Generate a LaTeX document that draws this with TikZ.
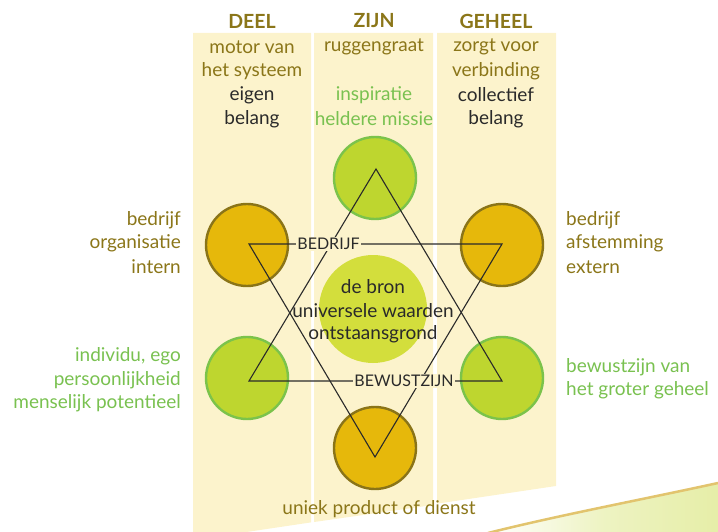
\documentclass[tikz,border=0pt]{standalone}
\usepackage{fontspec}
\setmainfont{Lato}
\definecolor{cream}{HTML}{FCF3CC}
\definecolor{olive}{HTML}{8B7619}
\definecolor{greentxt}{HTML}{79C150}
\definecolor{darktxt}{HTML}{2A2A2A}
\definecolor{orfill}{HTML}{E6B80B}
\definecolor{ordraw}{HTML}{8A7418}
\definecolor{grfill}{HTML}{BED62F}
\definecolor{grdraw}{HTML}{7BC34B}
\definecolor{cfill}{HTML}{D3DE3C}
\definecolor{swoosh}{HTML}{E6EEA8}
\definecolor{swooshedge}{HTML}{E2C46E}
\tikzset{
  txt/.style={inner sep=0pt, font=\fontsize{19}{22}\selectfont},
  head/.style={inner sep=0pt, font=\fontsize{19.5}{22}\selectfont\bfseries, text=olive},
  oltxt/.style={txt, text=olive},
  grtxt/.style={txt, text=greentxt},
  dktxt/.style={txt, text=darktxt},
  orcirc/.style={circle, minimum size=82pt, inner sep=0pt, fill=orfill, draw=ordraw, line width=2.4pt},
  grcirc/.style={circle, minimum size=82pt, inner sep=0pt, fill=grfill, draw=grdraw, line width=2.4pt},
  ccirc/.style={circle, minimum size=108pt, inner sep=0pt, fill=cfill},
  tri/.style={draw=darktxt, line width=1.1pt, line join=miter},
  lbl/.style={fill=cream, inner sep=1.5pt, text=darktxt, font=\fontsize{16}{18}\selectfont},
}
\begin{document}
\begin{tikzpicture}[x=1pt,y=-1pt]
\useasboundingbox (0,0) rectangle (718,532);
% swoosh
\shade[left color=white, right color=swoosh, middle color=swoosh!70] (488,533) .. controls (560,515) and (640,500) .. (718,483) -- (718,533) -- cycle;
\draw[swooshedge, line width=2.5pt] (488,533) .. controls (560,515) and (640,500) .. (718,483);
% columns
\fill[cream] (193,33) -- (311,33) -- (311,522.4) -- (193,540) -- cycle;
\fill[cream] (314,33) -- (433,33) -- (433,505) -- (314,522) -- cycle;
\fill[cream] (437,33) -- (556,33) -- (556,486) -- (437,503.7) -- cycle;
% headers
\node[head] (h1) at (252,21) {DEEL};
\node[head] (h2) at (374,21) {ZIJN};
\node[head] (h3) at (496,21) {GEHEEL};
% column texts
\node[oltxt] (a1) at (252,47) {motor van};
\node[oltxt] (a2) at (252,71) {het systeem};
\node[dktxt] (a3) at (252,95) {eigen};
\node[dktxt] (a4) at (252,119) {belang};
\node[oltxt] (b1) at (374,47) {ruggengraat};
\node[grtxt] (b3) at (374,95) {inspiratie};
\node[grtxt] (b4) at (374,119) {heldere missie};
\node[oltxt] (c1) at (496,47) {zorgt voor};
\node[oltxt] (c2) at (496,71) {verbinding};
\node[dktxt] (c3) at (496,95) {collectief};
\node[dktxt] (c4) at (496,119) {belang};
% side texts
\node[oltxt, anchor=east] (l1) at (181,220) {bedrijf};
\node[oltxt, anchor=east] (l2) at (181,243) {organisatie};
\node[oltxt, anchor=east] (l3) at (181,267) {intern};
\node[grtxt, anchor=east] (l4) at (181,356) {individu, ego};
\node[grtxt, anchor=east] (l5) at (181,380) {persoonlijkheid};
\node[grtxt, anchor=east] (l6) at (181,403) {menselijk potentieel};
\node[oltxt, anchor=west] (r1) at (566,220) {bedrijf};
\node[oltxt, anchor=west] (r2) at (566,243) {afstemming};
\node[oltxt, anchor=west] (r3) at (566,267) {extern};
\node[grtxt, anchor=west] (r4) at (566,367) {bewustzijn van};
\node[grtxt, anchor=west] (r5) at (566,390) {het groter geheel};
\node[oltxt] (bot) at (379,509) {uniek product of dienst};
% circles
\node[grcirc] (ctop) at (375,178) {};
\node[orcirc] (cul) at (247,245) {};
\node[orcirc] (cur) at (502,245) {};
\node[grcirc] (cll) at (247,378) {};
\node[grcirc] (clr) at (502,378) {};
\node[orcirc] (cbot) at (375,448) {};
\node[ccirc] (cmid) at (373,309) {};
% triangles
\coordinate (t1) at (376,169);
\coordinate (t2) at (249,381);
\coordinate (t3) at (502,381);
\coordinate (d1) at (249,244);
\coordinate (d2) at (502,244);
\coordinate (d3) at (375,457);
\draw[tri] (t1) -- (t2) -- (t3) -- cycle;
\draw[tri] (d1) -- (d2) -- (d3) -- cycle;
% labels
\node[lbl] (bedrijf) at (328.5,244) {BEDRIJF};
\node[lbl] (bewust) at (404,381) {BEWUSTZIJN};
% center text
\node[dktxt] (m1) at (373,287) {de bron};
\node[dktxt] (m2) at (373,311) {universele waarden};
\node[dktxt] (m3) at (373,334) {ontstaansgrond};
\end{tikzpicture}
\end{document}
